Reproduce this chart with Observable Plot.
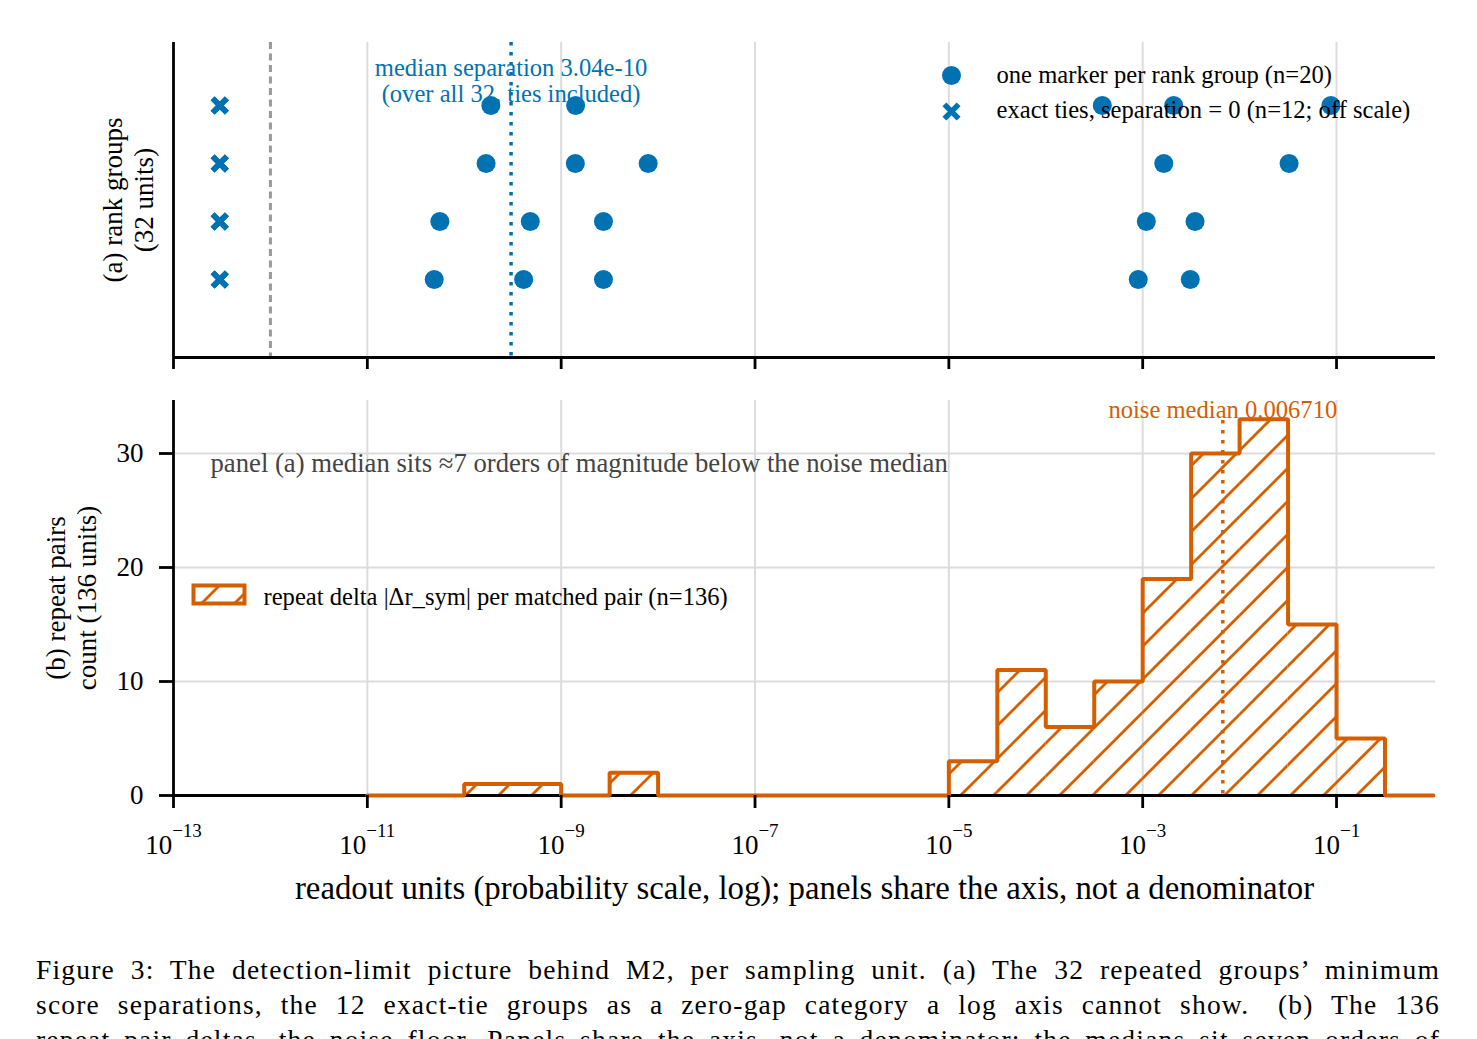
<!DOCTYPE html>
<html>
<head>
<meta charset="utf-8">
<script src="https://cdn.jsdelivr.net/npm/d3@7"></script>
<script src="https://cdn.jsdelivr.net/npm/@observablehq/plot@0.6"></script>
<style>
  html, body { margin: 0; padding: 0; background: #fff; overflow: hidden; }
  #page { position: relative; width: 1477px; height: 1039px; overflow: hidden; background: #fff;
          font-family: "Liberation Serif", "Times New Roman", serif; }
  #panelA { position: absolute; left: 0; top: 0; }
  #panelB { position: absolute; left: 0; top: 370px; }
  .cap { position: absolute; left: 36px; width: 1404px; font-size: 27.5px; line-height: 35px;
         letter-spacing: 1.2px; text-align: justify; text-align-last: justify; color: #000; }
  #legB { position: absolute; left: 190px; top: 582px; }
</style>
</head>
<body>
<div id="page">
  <div id="panelA"></div>
  <div id="panelB"></div>
  <svg id="legB" width="60" height="27"></svg>
  <div class="cap" id="cap1" style="top:952px"></div>
  <div class="cap" id="cap2" style="top:987px"></div>
  <div class="cap" id="cap3" style="top:1022px"></div>
</div>
<script>
// ---------- data ----------
// panel (a): minimum score separation per rank group (row 3 = top row)
const sepRow = [3, 3, 3, 3, 3, 2, 2, 2, 2, 2, 1, 1, 1, 1, 1, 0, 0, 0, 0, 0];
const sepValue = [
  1.88e-10, 1.41e-9, 3.83e-4, 2.09e-3, 8.75e-2,
  1.68e-10, 1.40e-9, 7.9e-9, 1.65e-3, 3.24e-2,
  5.6e-11, 4.8e-10, 2.73e-9, 1.09e-3, 3.47e-3,
  4.9e-11, 4.1e-10, 2.73e-9, 9.0e-4, 3.1e-3
];
// exact ties (separation = 0), drawn at an off-scale placeholder value
const tieRow = [3, 3, 3, 2, 2, 2, 1, 1, 1, 0, 0, 0];
const tieDisplayValue = 3e-13;
const zeroFloor = 1e-12;
const medianSeparation = 3.04e-10;

// panel (b): histogram of repeat deltas, half-decade bins
const binEdgeExp = [-11, -10.5, -10, -9.5, -9, -8.5, -8, -7.5, -7, -6.5, -6, -5.5,
                    -5, -4.5, -4, -3.5, -3, -2.5, -2, -1.5, -1, -0.5, 0];
const binCounts = [0, 0, 1, 1, 0, 2, 0, 0, 0, 0, 0, 0,
                   3, 11, 6, 10, 19, 30, 33, 15, 5, 0];
const noiseMedian = 0.006710;

// axes
const tickExp = [-13, -11, -9, -7, -5, -3, -1];
const yTicks = [0, 10, 20, 30];
const xDomain = [1e-13, 1.05];
const rowDomain = [-1.345, 4.086];
const countDomain = [0, 34.65];

// texts
const medianNote = "median separation 3.04e-10\n(over all 32, ties included)";
const legendA = ["one marker per rank group (n=20)", "exact ties, separation = 0 (n=12; off scale)"];
const yLabelA = "(a) rank groups\n(32 units)";
const yLabelB = "(b) repeat pairs\ncount (136 units)";
const noteB = "panel (a) median sits \u22487 orders of magnitude below the noise median";
const noiseNote = "noise median 0.006710";
const legendB = "repeat delta |\u0394r_sym| per matched pair (n=136)";
const xLabel = "readout units (probability scale, log); panels share the axis, not a denominator";
const caption = [
  "Figure 3: The detection-limit picture behind M2, per sampling unit. (a) The 32 repeated groups\u2019 minimum",
  "score separations, the 12 exact-tie groups as a zero-gap category a log axis cannot show.\u2003(b) The 136",
  "repeat pair deltas, the noise floor. Panels share the axis, not a denominator; the medians sit seven orders of"
];

// ---------- styling ----------
const blue = "#0072B2", orange = "#D55E00", gridC = "#dcdcdc";
const FONT = "Liberation Serif, Times New Roman, serif";
const tickVals = tickExp.map(e => Math.pow(10, e));

const sepData = sepValue.map((v, i) => ({value: v, row: sepRow[i]}));
const tieData = tieRow.map(r => ({value: tieDisplayValue, row: r}));

const svgA = Plot.plot({
  width: 1477, height: 370,
  marginLeft: 173, marginRight: 42, marginTop: 42, marginBottom: 13,
  style: {fontFamily: FONT, fontSize: "27px", background: "transparent", overflow: "visible", color: "black"},
  x: {type: "log", domain: xDomain},
  y: {domain: rowDomain, axis: null},
  marks: [
    Plot.ruleX(tickVals.slice(1), {stroke: gridC, strokeWidth: 2}),
    Plot.ruleX([zeroFloor], {stroke: "#999999", strokeWidth: 3, strokeDasharray: "7,4.5"}),
    Plot.text([{x: medianSeparation, t: medianNote}], {x: "x", text: "t", frameAnchor: "top", dy: 38.5,
      lineAnchor: "middle", textAnchor: "middle", fill: blue, fontSize: 24.6, lineHeight: 1.03}),
    Plot.ruleX([medianSeparation], {stroke: blue, strokeWidth: 3.5, strokeDasharray: "3.5,6.5"}),
    Plot.dot(sepData, {x: "value", y: "row", r: 9.5, fill: blue}),
    Plot.dot(tieData, {x: "value", y: "row", symbol: "times", r: 6.5, stroke: blue, strokeWidth: 5.5}),
    Plot.ruleX([xDomain[0]], {stroke: "black", strokeWidth: 2.8}),
    Plot.ruleY([rowDomain[0]], {stroke: "black", strokeWidth: 2.8}),
    Plot.axisX({ticks: tickVals, tickSize: 12, tickFormat: () => "", strokeWidth: 2.8, label: null}),
    Plot.dot([0], {frameAnchor: "top-left", dx: 778, dy: 33, r: 9.5, fill: blue}),
    Plot.dot([0], {frameAnchor: "top-left", dx: 778, dy: 69, symbol: "times", r: 6.5, stroke: blue, strokeWidth: 5.5}),
    Plot.text([legendA[0]], {text: d => d, frameAnchor: "top-left", dx: 823, dy: 33,
      textAnchor: "start", lineAnchor: "middle", fontSize: 24.6, fill: "black"}),
    Plot.text([legendA[1]], {text: d => d, frameAnchor: "top-left", dx: 823, dy: 68,
      textAnchor: "start", lineAnchor: "middle", fontSize: 24.6, fill: "black"}),
    Plot.text([yLabelA], {text: d => d, frameAnchor: "left", dx: -45.5, rotate: -90,
      textAnchor: "middle", lineAnchor: "middle", lineHeight: 1.15, fontSize: 27, fill: "black"})
  ]
});
document.getElementById("panelA").appendChild(svgA);

const bins = binCounts.map((c, i) => ({lo: Math.pow(10, binEdgeExp[i]), hi: Math.pow(10, binEdgeExp[i + 1]), count: c}));
const outline = [{x: bins[0].lo, y: 0}]
  .concat(bins.flatMap(b => [{x: b.lo, y: b.count}, {x: b.hi, y: b.count}]))
  .concat([{x: bins[bins.length - 1].hi, y: 0}]);

const svgB = Plot.plot({
  width: 1477, height: 540,
  marginLeft: 173, marginRight: 42, marginTop: 30, marginBottom: 115,
  style: {fontFamily: FONT, fontSize: "27px", background: "transparent", overflow: "visible", color: "black"},
  x: {type: "log", domain: xDomain},
  y: {domain: countDomain},
  marks: [
    Plot.ruleX(tickVals.slice(1), {stroke: gridC, strokeWidth: 2}),
    Plot.ruleY(yTicks, {stroke: gridC, strokeWidth: 2}),
    Plot.rectY(bins, {x1: "lo", x2: "hi", y: "count", fill: "url(#hatchB)"}),
    Plot.ruleX([noiseMedian], {stroke: orange, strokeWidth: 3.5, strokeDasharray: "3.5,6.5", insetTop: 20}),
    Plot.text([noteB], {text: d => d, frameAnchor: "top-left", dx: 37, dy: 63, textAnchor: "start",
      lineAnchor: "middle", fill: "#444444", fontSize: 26.7}),
    Plot.text([{x: noiseMedian, t: noiseNote}], {x: "x", text: "t", frameAnchor: "top", dy: 10,
      lineAnchor: "middle", textAnchor: "middle", fill: orange, fontSize: 24.6}),
    Plot.ruleX([xDomain[0]], {stroke: "black", strokeWidth: 2.8}),
    Plot.ruleY([countDomain[0]], {stroke: "black", strokeWidth: 2.8}),
    Plot.line(outline, {x: "x", y: "y", stroke: orange, strokeWidth: 4, strokeLinejoin: "miter"}),
    Plot.axisY({ticks: yTicks, tickSize: 14, tickPadding: 16, strokeWidth: 2.8, label: null}),
    Plot.axisX({ticks: tickVals, tickSize: 13, tickPadding: 26, strokeWidth: 2.8, label: null,
      tickFormat: d => "10|" + Math.round(Math.log10(d))}),
    Plot.text([legendB], {text: d => d, frameAnchor: "top-left", dx: 90, dy: 197, textAnchor: "start",
      lineAnchor: "middle", fill: "black", fontSize: 24.6}),
    Plot.text([xLabel], {text: d => d, frameAnchor: "bottom", dy: 93, lineAnchor: "middle",
      textAnchor: "middle", fontSize: 32.8, fill: "black"}),
    Plot.text([yLabelB], {text: d => d, frameAnchor: "left", dx: -103, rotate: -90,
      textAnchor: "middle", lineAnchor: "middle", lineHeight: 1.15, fontSize: 27, fill: "black"})
  ]
});
document.getElementById("panelB").appendChild(svgB);

// hatch pattern
function addHatch(svgNode, id) {
  const defs = d3.select(svgNode).insert("defs", ":first-child");
  const p = defs.append("pattern").attr("id", id).attr("patternUnits", "userSpaceOnUse")
    .attr("width", 33).attr("height", 33);
  p.append("path").attr("d", "M-4,37 L37,-4 M-4,4 L4,-4 M29,37 L37,29")
    .attr("stroke", orange).attr("stroke-width", 2.8).attr("fill", "none");
}
addHatch(svgB, "hatchB");

// superscript tick labels
d3.select(svgB).selectAll('g[aria-label="x-axis tick label"] text').each(function() {
  const parts = this.textContent.split("|");
  if (parts.length !== 2) return;
  this.textContent = "";
  const s = d3.select(this);
  s.append("tspan").text(parts[0]);
  s.append("tspan").attr("dy", "-17").attr("font-size", "19px").text(parts[1].replace("-", "\u2212"));
});

// legend swatch of panel (b)
{
  const lg = d3.select("#legB");
  addHatch(lg.node(), "hatchLeg");
  lg.append("rect").attr("x", 3.5).attr("y", 3.5).attr("width", 51).attr("height", 18)
    .attr("fill", "url(#hatchLeg)").attr("stroke", orange).attr("stroke-width", 4);
}

// caption
caption.forEach((t, i) => { document.getElementById("cap" + (i + 1)).textContent = t; });
</script>
</body>
</html>
